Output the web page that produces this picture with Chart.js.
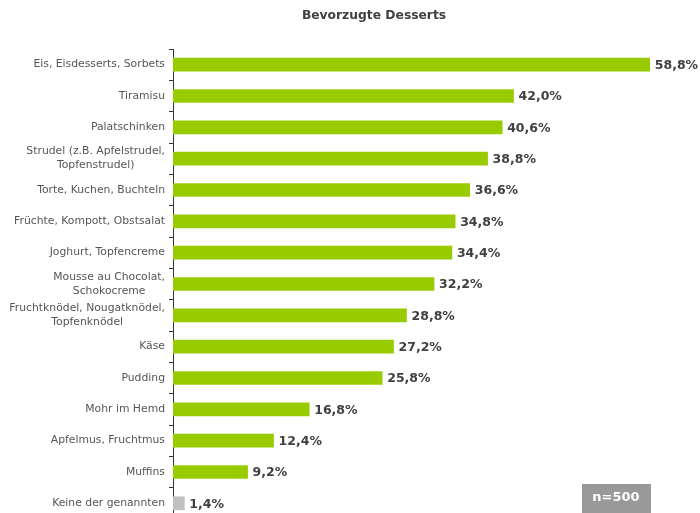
<!DOCTYPE html>
<html>
<head>
<meta charset="utf-8">
<script src="https://cdn.jsdelivr.net/npm/chart.js@4/dist/chart.umd.min.js"></script>
<style>
  html, body { margin: 0; padding: 0; width: 700px; height: 513px; overflow: hidden; background: #fff; }
  #wrap { position: relative; width: 700px; height: 519px; }
</style>
</head>
<body>
<div id="wrap"><canvas id="chart"></canvas></div>
<script>
const chartTitle = 'Bevorzugte Desserts';
const sampleNote = 'n=500';

const categories = [
    'Eis, Eisdesserts, Sorbets',
    'Tiramisu',
    'Palatschinken',
    ['Strudel (z.B. Apfelstrudel,', 'Topfenstrudel)'],
    'Torte, Kuchen, Buchteln',
    'Früchte, Kompott, Obstsalat',
    'Joghurt, Topfencreme',
    ['Mousse au Chocolat,', 'Schokocreme'],
    ['Fruchtknödel, Nougatknödel,', 'Topfenknödel'],
    'Käse',
    'Pudding',
    'Mohr im Hemd',
    'Apfelmus, Fruchtmus',
    'Muffins',
    'Keine der genannten'
];

const shares = [58.8, 42.0, 40.6, 38.8, 36.6, 34.8, 34.4, 32.2, 28.8, 27.2, 25.8, 16.8, 12.4, 9.2, 1.4];

const barColors = shares.map((v, i) => i === shares.length - 1 ? '#c0c0c0' : '#99cc00');

const fmt = v => v.toFixed(1).replace('.', ',') + '%';

// category labels: multi-line ones are centred line by line, block right-aligned
const categoryLabels = {
    id: 'categoryLabels',
    afterDraw(chart) {
        const ctx = chart.ctx;
        const yScale = chart.scales.y;
        const right = yScale.right - 8;
        const lineH = 14;
        ctx.save();
        ctx.font = '10.8px "DejaVu Sans"';
        ctx.fillStyle = '#555555';
        ctx.textBaseline = 'middle';
        categories.forEach((lab, i) => {
            const lines = Array.isArray(lab) ? lab : [lab];
            const y0 = yScale.getPixelForValue(i) - (lines.length - 1) * lineH / 2;
            const w = Math.max(...lines.map(l => ctx.measureText(l).width));
            ctx.textAlign = 'center';
            lines.forEach((l, k) => {
                ctx.fillText(l, right - w / 2, y0 + k * lineH);
            });
        });
        ctx.restore();
    }
};

const valueLabels = {
    id: 'valueLabels',
    afterDatasetsDraw(chart) {
        const ctx = chart.ctx;
        const meta = chart.getDatasetMeta(0);
        ctx.save();
        ctx.font = 'bold 12.5px "DejaVu Sans"';
        ctx.fillStyle = '#404040';
        ctx.textAlign = 'left';
        ctx.textBaseline = 'middle';
        meta.data.forEach((bar, i) => {
            ctx.fillText(fmt(shares[i]), bar.x + 5, bar.y + 1);
        });
        ctx.restore();
    }
};

const extras = {
    id: 'extras',
    afterDraw(chart) {
        const ctx = chart.ctx;
        ctx.save();
        ctx.font = 'bold 12.3px "DejaVu Sans"';
        ctx.fillStyle = '#404040';
        ctx.textAlign = 'center';
        ctx.textBaseline = 'middle';
        ctx.fillText(chartTitle, 374, 16);
        ctx.fillStyle = '#999999';
        ctx.fillRect(582, 484, 69, 32);
        ctx.font = 'bold 13px "DejaVu Sans"';
        ctx.fillStyle = '#ffffff';
        ctx.fillText(sampleNote, 616, 498);
        ctx.restore();
    }
};

new Chart(document.getElementById('chart'), {
    type: 'bar',
    data: {
        labels: categories,
        datasets: [{
            data: shares,
            backgroundColor: barColors,
            barThickness: 13
        }]
    },
    options: {
        indexAxis: 'y',
        responsive: true,
        maintainAspectRatio: false,
        animation: false,
        layout: { padding: { top: 49, bottom: 0, left: 0, right: 0 } },
        plugins: {
            legend: { display: false },
            tooltip: { enabled: false }
        },
        scales: {
            x: {
                display: false,
                min: 0,
                max: 65
            },
            y: {
                afterFit(scale) { scale.width = 173; },
                border: { color: '#333333', width: 1 },
                grid: {
                    drawOnChartArea: false,
                    offset: true,
                    tickLength: 4,
                    color: '#333333'
                },
                ticks: { display: false }
            }
        }
    },
    plugins: [valueLabels, categoryLabels, extras]
});
</script>
</body>
</html>
